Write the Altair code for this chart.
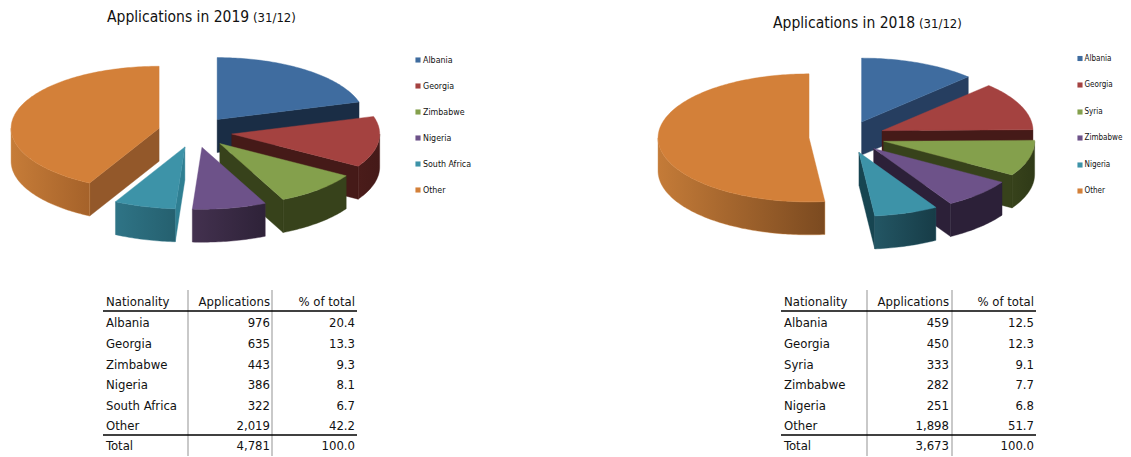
import math
import altair as alt
import pandas as pd

# ---------- values ----------
nat_2019 = ["Albania", "Georgia", "Zimbabwe", "Nigeria", "South Africa", "Other"]
app_2019 = [976, 635, 443, 386, 322, 2019]
pct_2019 = [20.4, 13.3, 9.3, 8.1, 6.7, 42.2]
total_2019 = 4781

nat_2018 = ["Albania", "Georgia", "Syria", "Zimbabwe", "Nigeria", "Other"]
app_2018 = [459, 450, 333, 282, 251, 1898]
pct_2018 = [12.5, 12.3, 9.1, 7.7, 6.8, 51.7]
total_2018 = 3673

top_cols = ["#3f6c9f", "#a44240", "#84a04c", "#6d5289", "#3d93a8", "#d38039"]

FONT = "DejaVu Sans Condensed"
W, H = 1115, 449
X_SCALE = alt.Scale(domain=[8, 8 + W])
Y_SCALE = alt.Scale(domain=[8 + H, 8])


def poly(points, fill):
    df = pd.DataFrame(points, columns=["px", "py"])
    df["i"] = range(len(df))
    col = fill if isinstance(fill, str) else fill["stops"][0]["color"]
    return alt.Chart(df).mark_line(
        fill=fill, stroke=col, strokeWidth=0.4, interpolate="linear-closed"
    ).encode(
        x=alt.X("px:Q", scale=X_SCALE, axis=None),
        y=alt.Y("py:Q", scale=Y_SCALE, axis=None),
        order="i:Q",
    )


def grad(c1, c2):
    return {
        "gradient": "linear", "x1": 0, "y1": 0, "x2": 1, "y2": 0,
        "stops": [{"offset": 0, "color": c1}, {"offset": 1, "color": c2}],
    }


def pie_layers(apps, cx, cy, rx, ry, depth, explode, radial, rim):
    total = sum(apps)
    k = ry / rx
    slices = []
    acc = 0.0
    for i, v in enumerate(apps):
        a0 = acc / total * 360
        acc += v
        a1 = acc / total * 360
        slices.append((i, a0, a1))

    def pt(ax, ay, a, dz=0):
        r = math.radians(a)
        return (ax + rx * math.sin(r), ay - ry * math.cos(r) + dz)

    layers = []
    for i, a0, a1 in sorted(slices, key=lambda s: -math.cos(math.radians((s[1] + s[2]) / 2))):
        mid = math.radians((a0 + a1) / 2)
        ax = cx + explode * math.sin(mid)
        ay = cy - explode * k * math.cos(mid)
        # radial cut faces that look towards the viewer
        if 0 < a1 < 180:
            e = pt(ax, ay, a1)
            layers.append(poly([(ax, ay), e, (e[0], e[1] + depth), (ax, ay + depth)], radial[i]))
        if 180 < a0 < 360:
            e = pt(ax, ay, a0)
            layers.append(poly([(ax, ay), e, (e[0], e[1] + depth), (ax, ay + depth)], radial[i]))
        # outer rim
        lo, hi = max(a0, 90), min(a1, 270)
        if lo < hi:
            n = max(2, int(hi - lo) + 1)
            angs = [lo + (hi - lo) * j / (n - 1) for j in range(n)]
            pts = [pt(ax, ay, a) for a in angs] + [pt(ax, ay, a, depth) for a in reversed(angs)]
            layers.append(poly(pts, rim[i]))
        # top face
        n = max(2, int(a1 - a0) + 1)
        angs = [a0 + (a1 - a0) * j / (n - 1) for j in range(n)]
        layers.append(poly([(ax, ay)] + [pt(ax, ay, a) for a in angs], top_cols[i]))
    return layers


def text(df, size, align="left", color="#111111"):
    return alt.Chart(df).mark_text(
        font=FONT, fontSize=size, align=align, baseline="middle", color=color
    ).encode(
        x=alt.X("px:Q", scale=X_SCALE, axis=None),
        y=alt.Y("py:Q", scale=Y_SCALE, axis=None),
        text="t:N",
    )


def hrule(x0, x1, y, color, w):
    df = pd.DataFrame({"px": [x0], "px2": [x1], "py": [y]})
    return alt.Chart(df).mark_rule(color=color, strokeWidth=w).encode(
        x=alt.X("px:Q", scale=X_SCALE, axis=None),
        x2="px2:Q",
        y=alt.Y("py:Q", scale=Y_SCALE, axis=None),
    )


def vrule(x, y0, y1, color, w):
    df = pd.DataFrame({"px": [x], "py": [y0], "py2": [y1]})
    return alt.Chart(df).mark_rule(color=color, strokeWidth=w).encode(
        x=alt.X("px:Q", scale=X_SCALE, axis=None),
        y=alt.Y("py:Q", scale=Y_SCALE, axis=None),
        y2="py2:Q",
    )


def table(nat, apps, pcts, total, x_name, x_app, x_pct, x_line0, x_line1, v1, v2):
    row_y = [323, 344, 365, 385, 406, 426]
    names = [{"px": x_name, "py": 302, "t": "Nationality"}]
    cnt = [{"px": x_app, "py": 302, "t": "Applications"}]
    pc = [{"px": x_pct, "py": 302, "t": "% of total"}]
    for n, a, p, y in zip(nat, apps, pcts, row_y):
        names.append({"px": x_name, "py": y, "t": n})
        cnt.append({"px": x_app, "py": y, "t": f"{a:,}"})
        pc.append({"px": x_pct, "py": y - 0.5, "t": f"{p:.1f}"})
    names.append({"px": x_name, "py": 446, "t": "Total"})
    cnt.append({"px": x_app, "py": 446, "t": f"{total:,}"})
    pc.append({"px": x_pct, "py": 446, "t": "100.0"})
    return [
        vrule(v1, 290, 456, "#c9c9c9", 2),
        vrule(v2, 290, 456, "#c9c9c9", 2),
        hrule(x_line0, x_line1, 311, "#000000", 1.6),
        hrule(x_line0, x_line1, 435, "#000000", 1.6),
        text(pd.DataFrame(names), 13),
        text(pd.DataFrame(cnt), 13, "right"),
        text(pd.DataFrame(pc), 13, "right"),
    ]


def legend(nat, x_sq, x_txt, ys, size):
    layers = []
    for n, y, c in zip(nat, ys, top_cols):
        df = pd.DataFrame({"px": [x_sq], "py": [y]})
        layers.append(
            alt.Chart(df).mark_square(size=26, color=c, opacity=1).encode(
                x=alt.X("px:Q", scale=X_SCALE, axis=None),
                y=alt.Y("py:Q", scale=Y_SCALE, axis=None),
            )
        )
        layers.append(text(pd.DataFrame({"px": [x_txt], "py": [y], "t": [n]}), size))
    return layers


radial_19 = ["#1a2d45", "#451a18", "#37421b", "#3a2a48", "#2f7f92", "#93582a"]
rim_19 = [
    grad("#1a2d45", "#1a2d45"),
    grad("#4a1c1a", "#451a18"),
    grad("#37421b", "#37421b"),
    grad("#43314f", "#2e2238"),
    grad("#2f7486", "#25606f"),
    grad("#c67c38", "#a5622a"),
]
radial_18 = ["#263e60", "#451a18", "#37421b", "#2c2038", "#174551", "#7b4a20"]
rim_18 = [
    grad("#263e60", "#263e60"),
    grad("#451a18", "#451a18"),
    grad("#37421b", "#2f3a17"),
    grad("#2c2038", "#2c2038"),
    grad("#235664", "#173c47"),
    grad("#c47b38", "#7b4a20"),
]

layers = []
layers += pie_layers(app_2019, 195, 132, 148, 62, 33, 37, radial_19, rim_19)
layers += pie_layers(app_2018, 847, 137, 151, 64, 33, 38, radial_18, rim_18)

layers.append(text(pd.DataFrame({"px": [107], "py": [17], "t": ["Applications in 2019"]}), 15.5))
layers.append(text(pd.DataFrame({"px": [253], "py": [18], "t": ["(31/12)"]}), 13))
layers.append(text(pd.DataFrame({"px": [773], "py": [23], "t": ["Applications in 2018"]}), 15.5))
layers.append(text(pd.DataFrame({"px": [919], "py": [24], "t": ["(31/12)"]}), 13))

layers += legend(nat_2019, 418, 423, [60, 86, 112, 138, 164, 190], 8.8)
layers += legend(nat_2018, 1080, 1084.5, [58.5, 85, 112, 138, 165, 191], 8)

layers += table(nat_2019, app_2019, pct_2019, total_2019, 106, 270, 355, 103, 357, 188, 272)
layers += table(nat_2018, app_2018, pct_2018, total_2018, 784, 949, 1034, 781, 1036, 867, 952)

chart = alt.layer(*layers).properties(
    width=W, height=H, padding=0, background="white",
    autosize=alt.AutoSizeParams(type="none"),
).configure_view(stroke=None)

chart.save("out.html", embed_options={"renderer": "svg", "actions": False})
